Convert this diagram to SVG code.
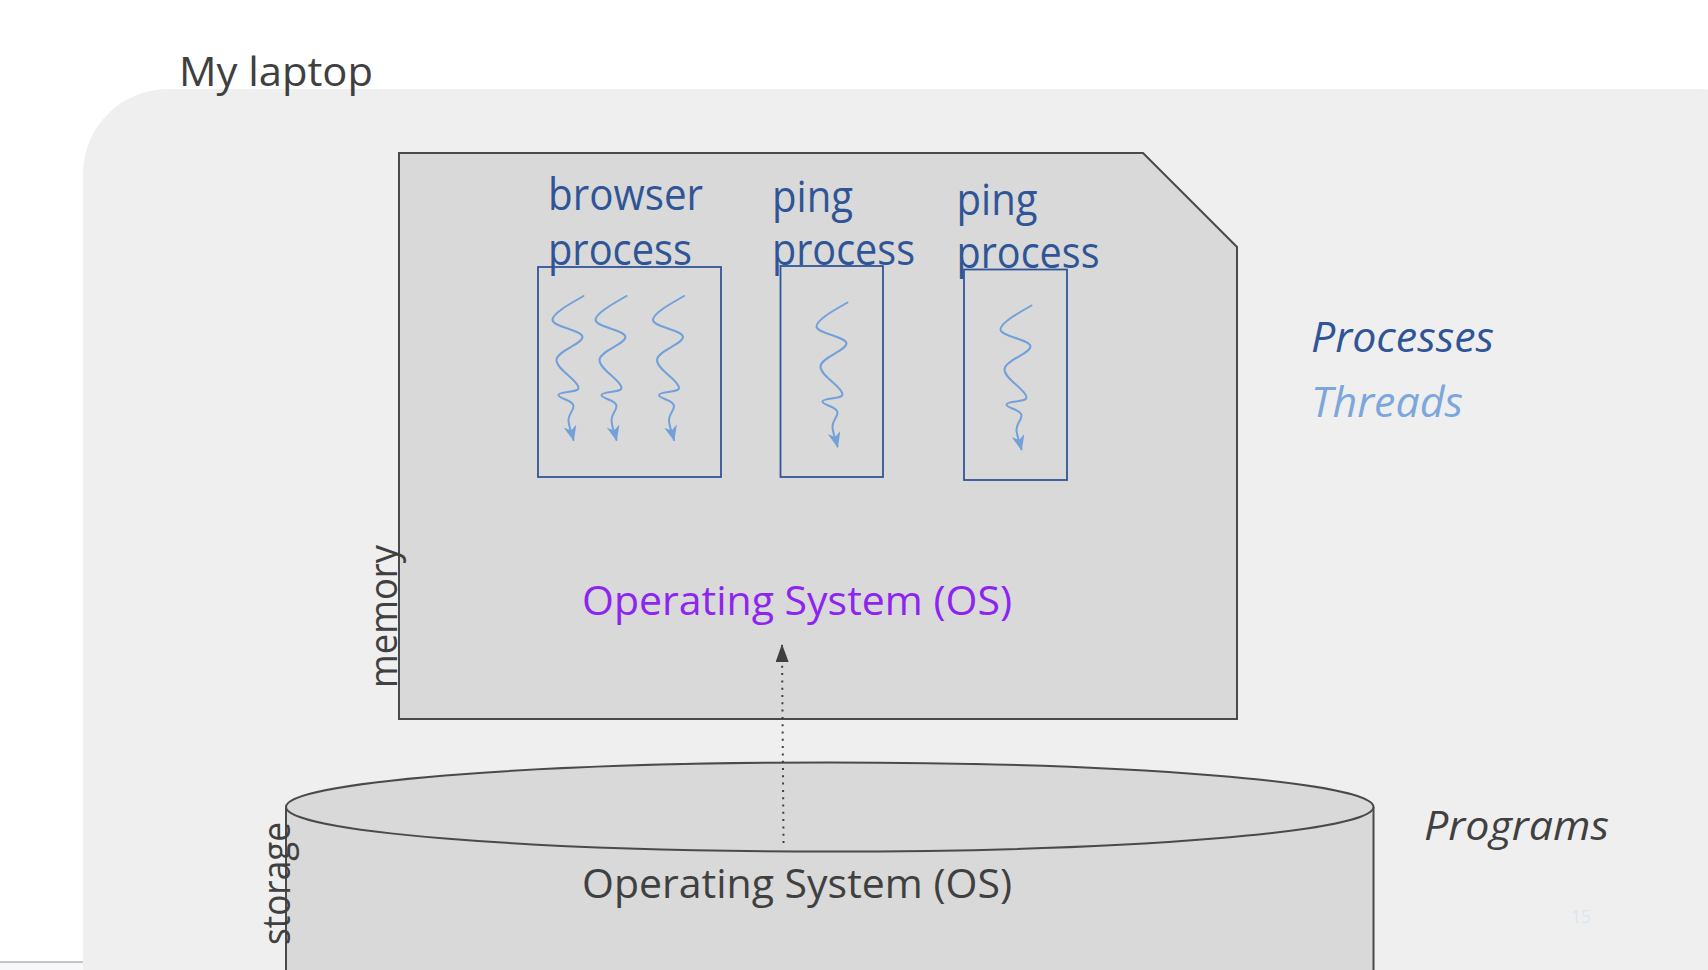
<svg xmlns="http://www.w3.org/2000/svg" width="1708" height="970" viewBox="0 0 1708 970">
<style>
.t{font-family:"Open Sans","Noto Sans","Liberation Sans",sans-serif;}
.dark{fill:#404040;}
.proc{fill:#2f5597;}
.pbox{fill:none;stroke:#2f5597;stroke-width:1.8;}
.thr{fill:none;stroke:#72a0d8;stroke-width:2;stroke-linecap:round;marker-end:url(#thrArrow);}
.shape{fill:#d9d9d9;stroke:#4a4a4a;stroke-width:2;}
</style>
<defs>
<marker id="thrArrow" viewBox="0 0 12 10" refX="11" refY="5" markerUnits="userSpaceOnUse" markerWidth="16" markerHeight="13" orient="auto">
<path d="M0,0 L12,5 L0,10 L3.5,5 Z" fill="#72a0d8"/>
</marker>
<marker id="dotArrow" viewBox="0 0 18 13" refX="17" refY="6.5" markerUnits="userSpaceOnUse" markerWidth="18" markerHeight="13" orient="auto">
<path d="M0,0 L18,6.5 L0,13 Z" fill="#404040"/>
</marker>
<path id="squig" d="M0,0 C-12,7 -31,17 -31,24 C-31,31 -1,34 -1,41 C-1,48 -27,55 -27,64 C-27,74 -5,84 -5,92 C-5,97 -25,95 -25,99 C-25,103 -10,104 -10,110 C-10,115 -15,118 -15,124 C-15,130 -12,136 -10,144"/>
</defs>

<rect x="0" y="0" width="1708" height="970" fill="#ffffff"/>
<rect x="0" y="963" width="90" height="7" fill="#f7f8fa"/>
<line x1="0" y1="962" x2="90" y2="962" stroke="#c4c4c4" stroke-width="2"/>

<g id="laptop">
<rect x="83" y="89" width="1700" height="1000" rx="85" ry="85" fill="#efefef"/>
<text class="t dark" x="179" y="86" font-size="40" textLength="194" lengthAdjust="spacingAndGlyphs">My laptop</text>
</g>

<g id="memory">
<polygon class="shape" points="399,153 1143,153 1237,247 1237,719 399,719"/>
<text class="t dark" transform="translate(397,688) rotate(-90)" font-size="38" textLength="143" lengthAdjust="spacingAndGlyphs">memory</text>
<text class="t" x="582" y="615" font-size="40" fill="#8e24f0" textLength="430" lengthAdjust="spacingAndGlyphs">Operating System (OS)</text>
</g>

<g id="browser-process">
<text class="t proc" x="548" y="210" font-size="43" textLength="155" lengthAdjust="spacingAndGlyphs">browser</text>
<text class="t proc" x="548" y="265" font-size="43" textLength="144" lengthAdjust="spacingAndGlyphs">process</text>
<rect class="pbox" x="538" y="267" width="183" height="210"/>
<use href="#squig" class="thr" transform="translate(583.5,296)"/>
<use href="#squig" class="thr" transform="translate(626.5,296)"/>
<use href="#squig" class="thr" transform="translate(684,296)"/>
</g>

<g id="ping-process-1">
<text class="t proc" x="772" y="212" font-size="43" textLength="81" lengthAdjust="spacingAndGlyphs">ping</text>
<text class="t proc" x="772" y="265" font-size="43" textLength="143" lengthAdjust="spacingAndGlyphs">process</text>
<rect class="pbox" x="780.5" y="266" width="102.5" height="211"/>
<use href="#squig" class="thr" transform="translate(847.5,302.5)"/>
</g>

<g id="ping-process-2">
<text class="t proc" x="956.5" y="215" font-size="43" textLength="81" lengthAdjust="spacingAndGlyphs">ping</text>
<text class="t proc" x="956.5" y="268" font-size="43" textLength="143" lengthAdjust="spacingAndGlyphs">process</text>
<rect class="pbox" x="964" y="269.5" width="103" height="210.5"/>
<use href="#squig" class="thr" transform="translate(1031.5,305.5)"/>
</g>

<g id="storage">
<path class="shape" d="M286,807 L286,980 L1373.5,980 L1373.5,807"/>
<ellipse class="shape" cx="829.75" cy="807" rx="543.75" ry="44.5"/>
<text class="t dark" transform="translate(290,945) rotate(-90)" font-size="38" textLength="123" lengthAdjust="spacingAndGlyphs">storage</text>
<text class="t dark" x="582" y="898" font-size="40" textLength="430" lengthAdjust="spacingAndGlyphs">Operating System (OS)</text>
</g>

<g id="connectors">
<line x1="783.5" y1="843" x2="782" y2="645" stroke="#404040" stroke-width="2" stroke-dasharray="2 5.3" marker-end="url(#dotArrow)"/>
</g>

<g id="legend">
<text class="t" x="1311" y="352" font-size="42" font-style="italic" fill="#2f5597" textLength="183" lengthAdjust="spacingAndGlyphs">Processes</text>
<text class="t" x="1311" y="417" font-size="42" font-style="italic" fill="#7ba7dc" textLength="152" lengthAdjust="spacingAndGlyphs">Threads</text>
<text class="t dark" x="1424" y="840" font-size="40" font-style="italic" textLength="185" lengthAdjust="spacingAndGlyphs">Programs</text>
<text class="t" x="1571" y="923" font-size="19" fill="#dbe5f3" textLength="20" lengthAdjust="spacingAndGlyphs">15</text>
</g>
</svg>
